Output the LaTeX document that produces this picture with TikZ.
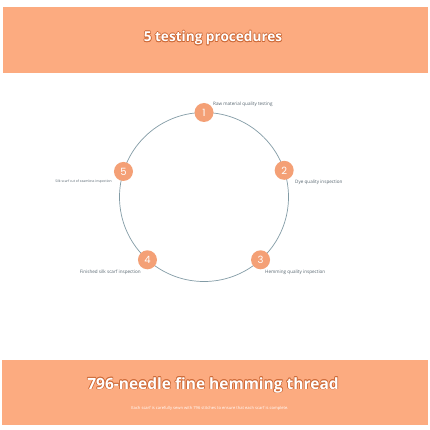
\documentclass[tikz,border=0pt]{standalone}
\usepackage{fontspec}
\setmainfont{Open Sans}
\newfontfamily\titlefont{Open Sans}
\newfontfamily\numfont{Poppins}
\definecolor{band}{RGB}{252,171,128}
\definecolor{dot}{RGB}{244,160,118}
\definecolor{ring}{RGB}{130,155,165}
\definecolor{lbl}{RGB}{85,100,110}
\definecolor{outl}{RGB}{205,105,55}
\newcommand{\outlined}[3]{%
  \foreach \dx/\dy in {0.7/0,-0.7/0,0/0.7,0/-0.7,0.5/0.5,-0.5/0.5,0.5/-0.5,-0.5/-0.5}{
    \node[text=outl,font=#3] at ($(#1)+(\dx,\dy)$) {#2};}
  \node[text=white,font=#3] at (#1) {#2};}
\usetikzlibrary{calc}
\begin{document}
\begin{tikzpicture}[x=1pt,y=-1pt,
  bandbox/.style={fill=band,draw=none},
  numdot/.style={circle,fill=dot,draw=none,minimum size=19pt,inner sep=0pt,text=white,font=\numfont\fontsize{10}{10}\selectfont},
  steplabel/.style={text=lbl,font=\fontsize{4.6}{5}\selectfont,inner sep=0pt}]
\useasboundingbox (0,0) rectangle (430,430);
\fill[white] (0,0) rectangle (430,430);
\fill[bandbox] (3,7) rectangle (428,73);
\fill[bandbox] (2,360) rectangle (428,425);
\coordinate (t1) at (213,38);
\coordinate (t2) at (213,385);
\outlined{t1}{5 testing procedures}{\titlefont\bfseries\fontsize{13.6}{16}\selectfont}
\outlined{t2}{796-needle fine hemming thread}{\titlefont\bfseries\fontsize{15.5}{19}\selectfont}
\node[text=white,font=\fontsize{4.1}{5}\selectfont] (sub) at (210,408) {Each scarf is carefully sewn with 796 stitches to ensure that each scarf is complete.};
\coordinate (c) at (204,197);
\draw[ring,line width=0.7pt] (c) circle (84.5);
\node[numdot] (n1) at ($(c)+(90:-84.5)$) {1};
\node[numdot] (n2) at ($(c)+(-18.4:84.5)$) {2};
\node[numdot] (n3) at ($(c)+(48:84.5)$) {3};
\node[numdot] (n4) at ($(c)+(132:84.5)$) {4};
\node[numdot] (n5) at ($(c)+(197.6:84.5)$) {5};
\node[steplabel,anchor=west] (l1) at (213,104) {Raw material quality testing};
\node[steplabel,anchor=west] (l2) at (295,182) {Dye quality inspection};
\node[steplabel,anchor=west] (l3) at (265,272) {Hemming quality inspection};
\node[steplabel,anchor=east] (l4) at (141,272) {Finished silk scarf inspection};
\node[steplabel,anchor=east,font=\fontsize{3.4}{4}\selectfont] (l5) at (112,182) {Silk scarf cut of seamless inspection};
\end{tikzpicture}
\end{document}
